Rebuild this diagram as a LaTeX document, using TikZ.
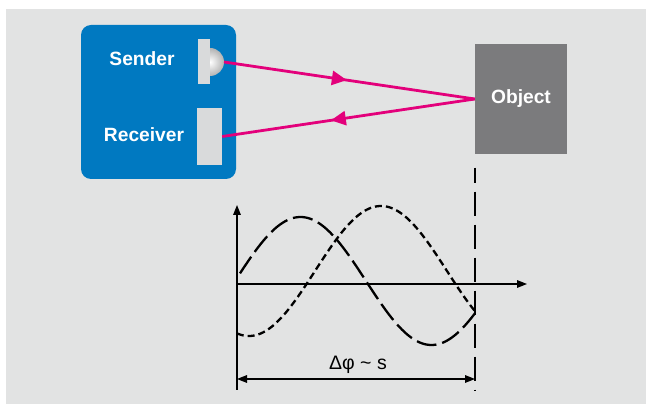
\documentclass[tikz,border=0pt]{standalone}
\usepackage{fontspec}
\setmainfont{Liberation Sans}
\usetikzlibrary{arrows.meta,decorations.markings}
\definecolor{bggray}{HTML}{E2E3E3}
\definecolor{sensblue}{HTML}{0079C1}
\definecolor{objgray}{HTML}{7B7B7D}
\definecolor{sensgray}{HTML}{D9DADB}
\definecolor{beampink}{HTML}{E3007B}
\begin{document}
\begin{tikzpicture}[x=1pt,y=-1pt,
  lbl/.style={text=white,font=\fontsize{19.2}{21}\selectfont\bfseries,inner sep=0pt},
  sensor/.style={fill=sensgray,draw=none,inner sep=0pt},
  beam/.style={draw=beampink,line width=2.8pt},
  midarrow/.style={postaction={decorate},decoration={markings,
     mark=at position #1 with {\arrow[beampink]{Triangle[length=15pt,width=14pt]}}}},
  axis/.style={line width=1.5pt,draw=black},
  wavea/.style={line width=2.3pt,dash pattern=on 20pt off 6pt},
  waveb/.style={line width=2.3pt,dash pattern=on 7pt off 4pt},
  guide/.style={line width=1.5pt,dash pattern=on 24pt off 9pt,dash phase=9pt}]
\useasboundingbox (0,0) rectangle (646,406);
\fill[bggray] (6,9) rectangle (646,404);

% sensor box
\node[fill=sensblue,rounded corners=10pt,minimum width=155pt,minimum height=154pt,inner sep=0pt] (box) at (158.5,102) {};
\node[sensor,minimum width=12pt,minimum height=45pt] (send) at (204,61.5) {};
\begin{scope}
  \clip (210,40) rectangle (232,85);
  \shade[inner color=white,outer color=gray!60] (210,62) circle (14pt);
\end{scope}
\coordinate (lens) at (224,62);
\node[sensor,minimum width=25pt,minimum height=57pt] (recv) at (209.5,136.5) {};
\node[lbl] (sl) at (142,59) {Sender};
\node[lbl] (rl) at (144,135) {Receiver};

% object
\node[lbl,fill=objgray,minimum width=92pt,minimum height=110pt] (obj) at (521,99) {Object};

% beams
\draw[beam,midarrow=0.49] (lens) -- (obj.west);
\draw[beam,midarrow=0.57] (obj.west) -- (recv.east);

% graph
\coordinate (O) at (237,284);
\coordinate (ytop) at (237,205);
\coordinate (ybot) at (237,390);
\coordinate (xend) at (527,284);
\coordinate (vt) at (475,167.7);
\coordinate (vb) at (475,390);
\coordinate (dl) at (237,379);
\coordinate (dr) at (475,379);

\draw[axis,-{Triangle[length=10pt,width=7.5pt]}] (ybot) -- (ytop);
\draw[axis,-{Triangle[length=10pt,width=7.5pt]}] (O) -- (xend);
\draw[guide] (vt) -- (vb);

\draw[wavea] plot[domain=240:475,samples=120,smooth] (\x,{281-64*sin((\x-235)*1.3740458)});
\draw[waveb] plot[domain=237:475,samples=120,smooth] (\x,{271+65*cos((\x-249)*1.3636364)});

\draw[axis,{Triangle[length=10pt,width=7.5pt]}-{Triangle[length=10pt,width=7.5pt]}] (dl) -- (dr);
\node[font=\fontsize{19.5}{21}\selectfont,inner sep=0pt] (dlabel) at (358,365) {Δφ \textasciitilde{} s};
\end{tikzpicture}
\end{document}
